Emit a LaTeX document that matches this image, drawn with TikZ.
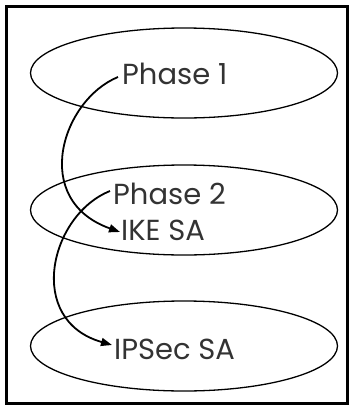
\documentclass[tikz,border=0pt]{standalone}
\usepackage{fontspec}
\setmainfont{Poppins}
\usetikzlibrary{shapes.geometric,calc,arrows.meta}
\begin{document}
\begin{tikzpicture}[x=1pt,y=-1pt,
  phase/.style={draw=black,line width=1.3pt,ellipse,minimum width=307pt,minimum height=90pt,inner sep=0pt},
  lbl/.style={font=\fontsize{29}{30}\selectfont,text=black!80,inner sep=0pt,anchor=west},
  flow/.style={line width=1.8pt,-{Triangle[length=11pt,width=8pt]}}]
\useasboundingbox (0,0) rectangle (360,408);
\draw[line width=3pt] (6.5,6.5) rectangle (347,403);
\node[phase] (e1) at (184,73) {};
\node[phase] (e2) at (184,210) {};
\node[phase] (e3) at (184,346) {};
\node[lbl] (t1) at (122,74) {Phase 1};
\node[lbl] (t2a) at (113,194) {Phase 2};
\node[lbl] (t2b) at (121,230) {IKE SA};
\node[lbl] (t3) at (114,349) {IPSec SA};
\draw[flow] ($(t1.west)+(-4,3)$) .. controls (62,100) and (30,200) .. ($(t2b.west)+(-1,2)$);
\draw[flow] ($(t2a.west)+(-3,-3)$) .. controls (50,215) and (25,320) .. ($(t3.west)+(-2,-4)$);
\end{tikzpicture}
\end{document}
